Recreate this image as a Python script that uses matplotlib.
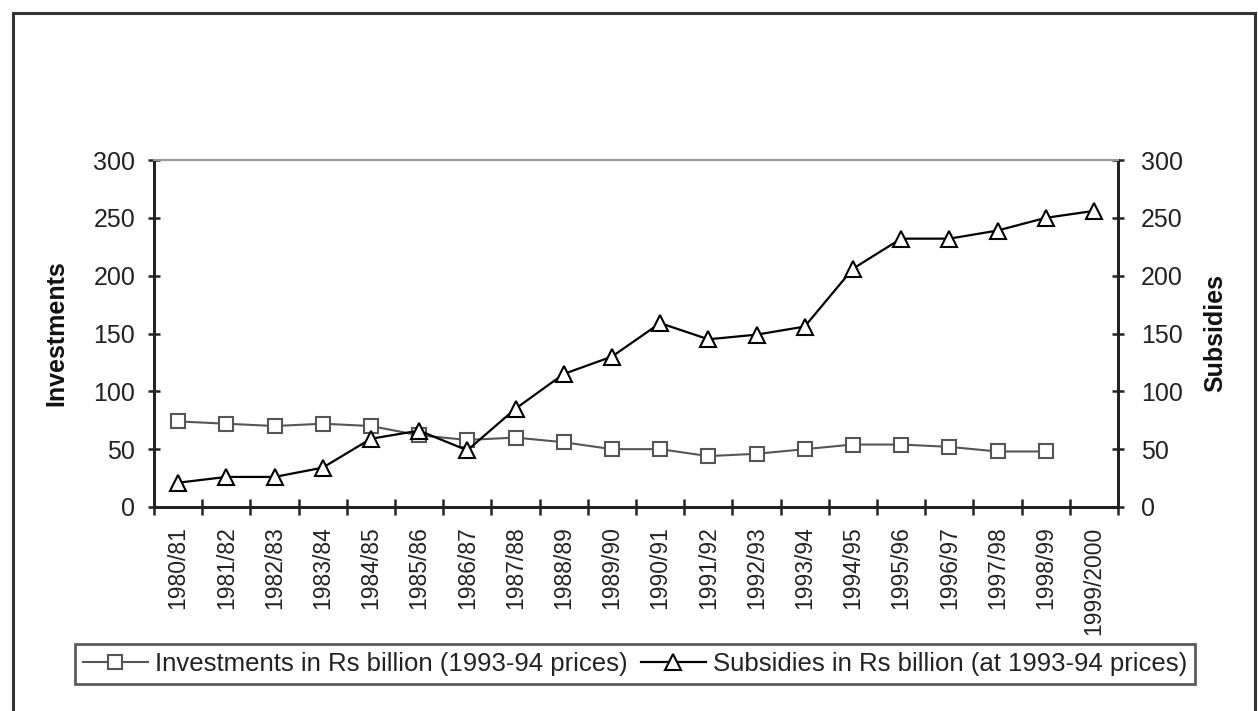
import numpy as np
import matplotlib.pyplot as plt
from matplotlib.patches import Rectangle

plt.rcParams['font.family'] = ['Liberation Sans', 'DejaVu Sans']

years = ["1980/81", "1981/82", "1982/83", "1983/84", "1984/85", "1985/86",
         "1986/87", "1987/88", "1988/89", "1989/90", "1990/91", "1991/92",
         "1992/93", "1993/94", "1994/95", "1995/96", "1996/97", "1997/98",
         "1998/99", "1999/2000"]
investments = [74, 72, 70, 72, 70, 62, 58, 60, 56, 50, 50, 44, 46, 50,
               54, 54, 52, 48, 48, np.nan]
subsidies = [21, 26, 26, 34, 59, 66, 49, 85, 115, 130, 159, 145, 149, 156,
             206, 232, 232, 239, 250, 256]

W, H = 1258, 711
fig = plt.figure(figsize=(W / 100, H / 100), dpi=100)
fig.patch.set_facecolor('white')

# outer frame (bottom edge is cut off in the original)
frame = Rectangle((13 / W, -0.05), (1255 - 13) / W, 1.05 - 13 / H,
                  transform=fig.transFigure, fill=False, edgecolor='#333333',
                  linewidth=2.2, clip_on=False)
fig.patches.append(frame)

ax = fig.add_axes([154 / W, 1 - 507 / H, (1118 - 154) / W, (507 - 160) / H])
ax2 = ax.twinx()

x = np.arange(len(years))
l1, = ax.plot(x, investments, color='#555555', linewidth=1.5, marker='s',
              markersize=10, markerfacecolor='white', markeredgecolor='#555555',
              markeredgewidth=1.5, label='Investments in Rs billion (1993-94 prices)')
l2, = ax2.plot(x, subsidies, color='black', linewidth=1.6, marker='^',
               markersize=12, markerfacecolor='white', markeredgecolor='black',
               markeredgewidth=1.5, label='Subsidies in Rs billion (at 1993-94 prices)')

for a in (ax, ax2):
    a.set_ylim(0, 300)
    a.set_yticks(range(0, 301, 50))
    a.set_xlim(-0.5, len(years) - 0.5)
    a.spines['top'].set_color('#999999')
    a.spines['top'].set_linewidth(1.5)
    for s in ('left', 'right', 'bottom'):
        a.spines[s].set_color('#222222')
        a.spines[s].set_linewidth(2)

ax.tick_params(axis='y', direction='inout', length=9, width=1.8, pad=9,
               labelsize=18, colors='#222222')
ax2.tick_params(axis='y', direction='inout', length=9, width=1.8, pad=12,
                labelsize=18, colors='#222222')

ax.set_xticks(x)
ax.set_xticklabels(years, rotation=90, ha='center', va='top', fontsize=16.5,
                   color='#222222')
ax.tick_params(axis='x', which='major', length=0, pad=14)
ax.set_xticks(np.arange(len(years) + 1) - 0.5, minor=True)
ax.tick_params(axis='x', which='minor', direction='inout', length=12, width=1.8,
               color='#222222')

ax.set_ylabel('Investments', fontsize=18, fontweight='bold', color='#111111')
ax.yaxis.set_label_coords((68 - 154) / 964, 0.5)
ax2.set_ylabel('Subsidies', fontsize=18, fontweight='bold', color='#111111')
ax2.yaxis.set_label_coords((1203 - 154) / 964, 0.5)

leg = fig.legend([l1, l2], [l1.get_label(), l2.get_label()], ncol=2,
                 loc='center', bbox_to_anchor=(635 / W, 1 - 664 / H),
                 fontsize=18.5, frameon=True, fancybox=False, handlelength=2.55,
                 handletextpad=0.27, columnspacing=0.5, borderpad=0.3,
                 borderaxespad=0)
leg.get_frame().set_edgecolor('#333333')
leg.get_frame().set_linewidth(2)
for t in leg.get_texts():
    t.set_color('#222222')

fig.savefig('out.png', dpi=100)
